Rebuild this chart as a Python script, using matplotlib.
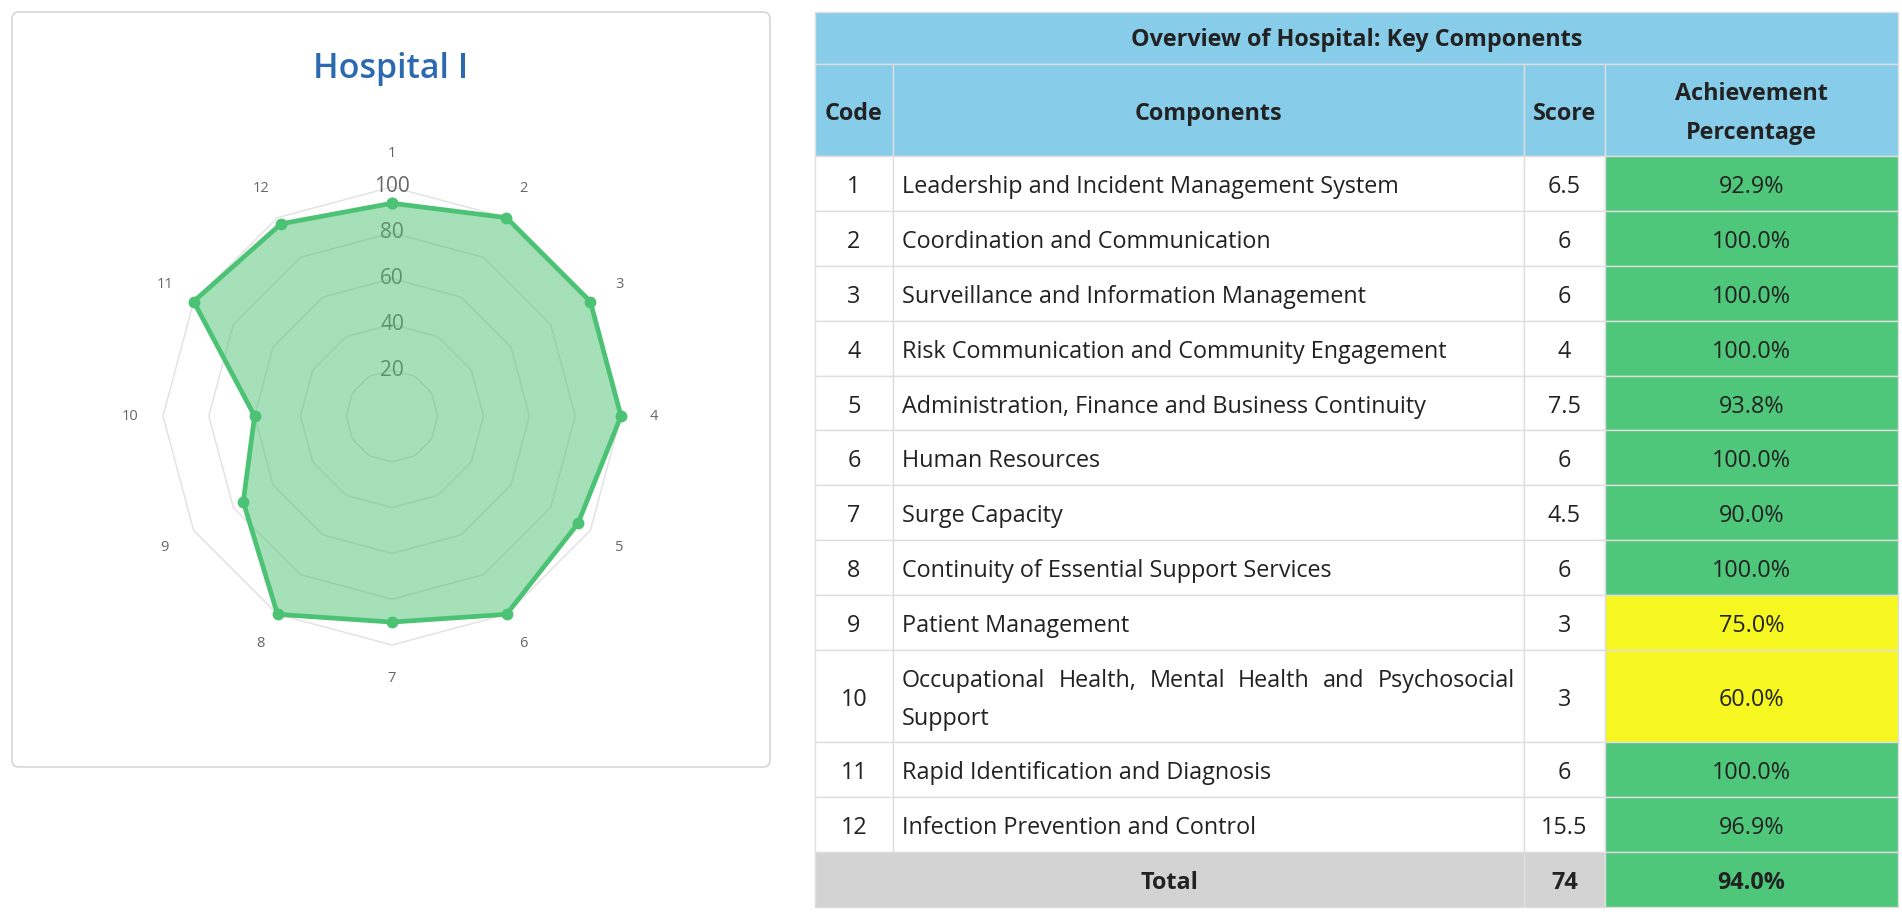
import textwrap
import numpy as np
import matplotlib
matplotlib.use("Agg")
import matplotlib.pyplot as plt
from matplotlib.patches import Rectangle, FancyBboxPatch

# ---------------- data ----------------
codes = ["1", "2", "3", "4", "5", "6", "7", "8", "9", "10", "11", "12"]
components = [
    "Leadership and Incident Management System",
    "Coordination and Communication",
    "Surveillance and Information Management",
    "Risk Communication and Community Engagement",
    "Administration, Finance and Business Continuity",
    "Human Resources",
    "Surge Capacity",
    "Continuity of Essential Support Services",
    "Patient Management",
    "Occupational Health, Mental Health and Psychosocial Support",
    "Rapid Identification and Diagnosis",
    "Infection Prevention and Control",
]
scores = ["6.5", "6", "6", "4", "7.5", "6", "4.5", "6", "3", "3", "6", "15.5"]
achievement = [92.9, 100.0, 100.0, 100.0, 93.8, 100.0, 90.0, 100.0, 75.0, 60.0, 100.0, 96.9]
total_score = "74"
total_pct = 94.0
radar_ticks = [20, 40, 60, 80, 100]
chart_title = "Hospital I"
table_title = "Overview of Hospital: Key Components"
headers = ["Code", "Components", "Score", "Achievement\nPercentage"]

# ---------------- figure ----------------
W, H = 1902, 915
plt.rcParams["font.family"] = ["Open Sans", "DejaVu Sans"]
fig = plt.figure(figsize=(W / 100, H / 100), dpi=100)
fig.patch.set_facecolor("white")
renderer = fig.canvas.get_renderer()

ax = fig.add_axes([0, 0, 1, 1])
ax.set_xlim(0, W)
ax.set_ylim(H, 0)
ax.axis("off")

# radar panel card
ax.add_patch(FancyBboxPatch((12, 12), 758, 755,
                            boxstyle="round,pad=0,rounding_size=7",
                            fc="white", ec="#d6d6d6", lw=1.2))
ax.text(391, 69, chart_title, ha="center", va="center", fontsize=24.5,
        fontweight="semibold", color="#2b6ab0")

# ---------------- radar ----------------
cx, cy, R = 392, 416, 229
rax = fig.add_axes([(cx - R) / W, (H - cy - R) / H, 2 * R / W, 2 * R / H],
                   projection="polar")
rax.set_facecolor("none")
rax.set_theta_zero_location("N")
rax.set_theta_direction(-1)
rax.set_ylim(0, 100)
rax.grid(False)
rax.spines["polar"].set_visible(False)
rax.set_xticks([])
rax.set_yticks([])

n = len(codes)
theta = np.linspace(0, 2 * np.pi, n, endpoint=False)
theta_c = np.append(theta, theta[0])
vals_c = np.append(achievement, achievement[0])

for t in radar_ticks:
    rax.plot(theta_c, [t] * (n + 1), color="#e3e3e3", lw=1.1, zorder=1, clip_on=False)
    rax.text(0, t, str(t), ha="center", va="center", fontsize=15,
             color="#666666", zorder=2)

rax.fill(theta_c, vals_c, color="#4cc274", alpha=0.5, lw=0, zorder=3, clip_on=False)
rax.plot(theta_c, vals_c, color="#4cc274", lw=3.4, marker="o", ms=7.5,
         zorder=4, clip_on=False)
for th, lab in zip(theta, codes):
    rax.text(th, 114.5, lab, ha="center", va="center", fontsize=10.5, color="#666666")

# ---------------- table ----------------
col_x = [815, 893, 1524, 1605, 1898]
border = "#dedede"
txt = "#222222"
blue = "#87cdea"
green = "#4ec77a"
yellow = "#f6f620"
grey = "#d3d3d3"
fs_body = 16.8
fs_head = 16.8
pad = 9
dy = 3.5  # small downward text offset within cells

top = 12
title_h, head_h, row_h, line_h = 52, 92, 54.9, 37.5


def cell(x0, x1, y0, y1, fc):
    ax.add_patch(Rectangle((x0, y0), x1 - x0, y1 - y0, fc=fc, ec=border, lw=1.0))


def justified(x0, x1, yc, text, wrap=52):
    lines = textwrap.wrap(text, wrap)
    nl = len(lines)
    for k, line in enumerate(lines):
        yl = yc + (k - (nl - 1) / 2) * line_h
        words = line.split()
        if k == nl - 1 or len(words) == 1:
            ax.text(x0, yl, line, ha="left", va="center", fontsize=fs_body, color=txt)
            continue
        arts = [ax.text(0, yl, w, ha="left", va="center", fontsize=fs_body, color=txt)
                for w in words]
        widths = [a.get_window_extent(renderer).width for a in arts]
        gap = (x1 - x0 - sum(widths)) / (len(words) - 1)
        xx = x0
        for a, w in zip(arts, widths):
            a.set_x(xx)
            xx += w + gap


# title row
y = top
cell(col_x[0], col_x[-1], y, y + title_h, blue)
ax.text((col_x[0] + col_x[-1]) / 2, y + title_h / 2 + 2, table_title, ha="center",
        va="center", fontsize=fs_head, fontweight="bold", color=txt)
y += title_h

# header row
for i, h in enumerate(headers):
    cell(col_x[i], col_x[i + 1], y, y + head_h, blue)
    ax.text((col_x[i] + col_x[i + 1]) / 2, y + head_h / 2 + dy, h, ha="center",
            va="center", fontsize=fs_head, fontweight="bold", color=txt,
            linespacing=1.8)
y += head_h

# body rows
for code, comp, sc, pct in zip(codes, components, scores, achievement):
    nl = len(textwrap.wrap(comp, 52))
    h = row_h + (nl - 1) * line_h
    fc_pct = green if pct >= 90 else yellow
    cell(col_x[0], col_x[1], y, y + h, "white")
    cell(col_x[1], col_x[2], y, y + h, "white")
    cell(col_x[2], col_x[3], y, y + h, "white")
    cell(col_x[3], col_x[4], y, y + h, fc_pct)
    ym = y + h / 2 + dy
    ax.text((col_x[0] + col_x[1]) / 2, ym, code, ha="center", va="center",
            fontsize=fs_body, color=txt)
    justified(col_x[1] + pad, col_x[2] - pad, ym, comp)
    ax.text((col_x[2] + col_x[3]) / 2, ym, sc, ha="center", va="center",
            fontsize=fs_body, color=txt)
    ax.text((col_x[3] + col_x[4]) / 2, ym, f"{pct:.1f}%", ha="center",
            va="center", fontsize=fs_body, color=txt)
    y += h

# total row
cell(col_x[0], col_x[2], y, y + row_h, grey)
cell(col_x[2], col_x[3], y, y + row_h, grey)
cell(col_x[3], col_x[4], y, y + row_h, green if total_pct >= 90 else yellow)
ym = y + row_h / 2 + dy
ax.text((col_x[0] + col_x[2]) / 2, ym, "Total", ha="center", va="center",
        fontsize=fs_body, fontweight="bold", color=txt)
ax.text((col_x[2] + col_x[3]) / 2, ym, total_score, ha="center", va="center",
        fontsize=fs_body, fontweight="bold", color=txt)
ax.text((col_x[3] + col_x[4]) / 2, ym, f"{total_pct:.1f}%", ha="center",
        va="center", fontsize=fs_body, fontweight="bold", color=txt)

fig.savefig("out.png", dpi=100, facecolor="white")
